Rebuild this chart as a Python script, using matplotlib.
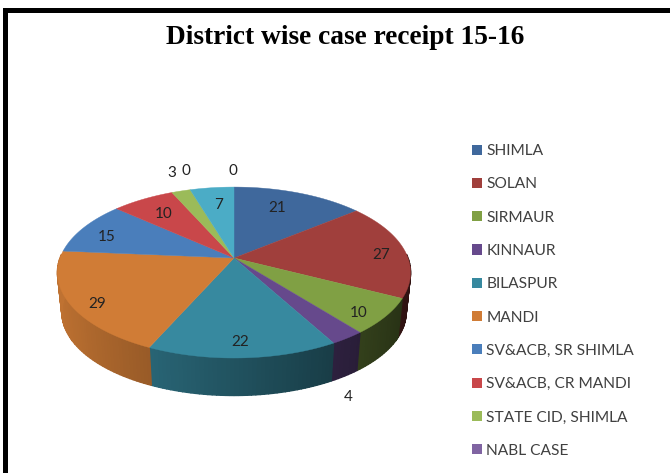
import numpy as np
import matplotlib
matplotlib.use("Agg")
import matplotlib.pyplot as plt
from matplotlib.patches import Patch, Polygon, Rectangle
from matplotlib.colors import to_rgb

# slice values, clockwise from 12 o'clock
values = [21, 27, 10, 4, 22, 29, 15, 10, 3, 0, 7, 0]
slice_colors = ["#3f689c", "#a03f3c", "#80a044", "#66498c", "#37899f", "#d07c36",
                "#4a7ebb", "#c9474a", "#9bbb59", "#8064a2", "#4bacc6", "#f79646"]
legend_names = ["SHIMLA", "SOLAN", "SIRMAUR", "KINNAUR", "BILASPUR", "MANDI",
                "SV&ACB, SR SHIMLA", "SV&ACB, CR MANDI", "STATE CID, SHIMLA", "NABL CASE"]
# label text with pixel position
label_text = ["21", "27", "10", "4", "22", "29", "15", "10", "3", "0", "7", "0"]
label_x = [277, 381, 359, 348, 240, 97, 107, 164, 172, 186, 219, 233]
label_y = [208, 255, 313, 397, 342, 304, 237, 214, 173, 171, 205, 171]

# perspective of the pie, fitted on the picture
cx, cy = 234, 258
rad_x, rad_y, persp = 174, 83, 0.17
depth = 40


def project(ang, r=1.0, drop=0.0, shrink=1.0):
    u = r * np.sin(ang)
    v = r * np.cos(ang)
    w = 1 + persp * v
    return np.column_stack([cx + shrink * rad_x * u / w,
                            cy - shrink * rad_y * v / w + drop])


fig = plt.figure(figsize=(6.7, 4.73), dpi=100)
ax = fig.add_axes([0, 0, 1, 1])
ax.set_xlim(0, 670)
ax.set_ylim(473, 0)
ax.axis("off")

# frame only runs along the top and the left
ax.add_patch(Rectangle((3, 8), 667, 5, fc="black", ec="none"))
ax.add_patch(Rectangle((3, 8), 5, 465, fc="black", ec="none"))

edges = np.cumsum([0] + values) / sum(values) * 2 * np.pi

# side wall, small quads so the shade can run along the rim
for i, val in enumerate(values):
    if val == 0:
        continue
    steps = np.linspace(edges[i], edges[i + 1], max(int(val * 2), 2) + 1)
    for a0, a1 in zip(steps[:-1], steps[1:]):
        mid = (a0 + a1) / 2
        if np.cos(mid) > 0.05:
            continue
        top = project(np.array([a0, a1]))
        low = project(np.array([a1, a0]), drop=depth, shrink=0.975)
        # lighter towards the left, dark towards the right
        shade = 0.60 - 0.32 * np.sin(mid)
        col = np.array(to_rgb(slice_colors[i])) * shade
        ax.add_patch(Polygon(np.vstack([top, low]), closed=True, fc=col, ec=col, lw=1.0))

# top face
for i, val in enumerate(values):
    if val == 0:
        continue
    arc = project(np.linspace(edges[i], edges[i + 1], 60))
    pts = np.vstack([[cx, cy], arc])
    ax.add_patch(Polygon(pts, closed=True, fc=slice_colors[i], ec=slice_colors[i], lw=0.3))

for txt, x, y in zip(label_text, label_x, label_y):
    ax.text(x, y, txt, fontsize=11, family="Lato", color="#222222", ha="center", va="center")

ax.text(345, 37, "District wise case receipt 15-16", fontsize=19.7, family="Liberation Serif",
        fontweight="bold", color="black", ha="center", va="center")

handles = [Patch(fc=slice_colors[i], ec="none") for i in range(len(legend_names))]
leg = ax.legend(handles, legend_names, loc="upper left", bbox_to_anchor=(469 / 670, 1 - 141 / 473),
                frameon=False, prop={"family": "Lato", "size": 11.2}, labelcolor="#404040",
                handlelength=0.62, handleheight=0.62, handletextpad=0.3,
                labelspacing=1.24, borderpad=0.2, borderaxespad=0)

fig.savefig("out.png", dpi=100)
